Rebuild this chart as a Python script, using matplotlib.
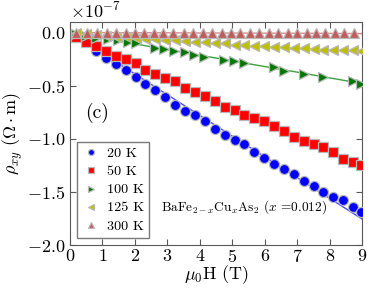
import matplotlib
matplotlib.use("Agg")
import matplotlib.pyplot as plt
import numpy as np

plt.rcParams['font.family'] = 'serif'
plt.rcParams['font.serif'] = ['cmr10', 'DejaVu Serif']
plt.rcParams['mathtext.fontset'] = 'cm'
plt.rcParams['axes.formatter.use_mathtext'] = True
plt.rcParams['axes.unicode_minus'] = True

# =============================
# Data (rho_xy in units of 1e-7 Ohm m)
# =============================
h_main = [0.19, 0.50, 0.80, 1.11, 1.42, 1.73, 2.04, 2.32, 2.63, 2.94,
          3.25, 3.53, 3.84, 4.15, 4.46, 4.77, 5.08, 5.36, 5.67, 5.98,
          6.28, 6.59, 6.90, 7.21, 7.52, 7.80, 8.11, 8.42, 8.73, 8.98]

rho_20k = [-0.04, -0.09, -0.17, -0.24, -0.30, -0.35, -0.42, -0.48, -0.54, -0.61,
           -0.68, -0.74, -0.78, -0.83, -0.91, -0.96, -1.01, -1.05, -1.12, -1.18,
           -1.24, -1.28, -1.33, -1.40, -1.44, -1.50, -1.55, -1.58, -1.64, -1.69]

rho_50k = [-0.04, -0.09, -0.13, -0.17, -0.22, -0.25, -0.29, -0.35, -0.39, -0.43,
           -0.46, -0.52, -0.56, -0.60, -0.64, -0.70, -0.73, -0.78, -0.80, -0.83,
           -0.88, -0.93, -0.98, -1.02, -1.05, -1.08, -1.12, -1.19, -1.22, -1.25]

rho_125k = [-0.005, -0.015, -0.025, -0.03, -0.04, -0.045, -0.05, -0.06, -0.06, -0.07,
            -0.075, -0.08, -0.085, -0.09, -0.095, -0.10, -0.12, -0.12, -0.13, -0.13,
            -0.14, -0.14, -0.145, -0.15, -0.155, -0.16, -0.16, -0.165, -0.165, -0.17]

h_100k = [0.19, 0.50, 0.80, 1.18, 1.49, 1.80, 2.04, 2.63, 2.91, 3.22,
          3.53, 3.81, 4.12, 4.74, 5.05, 5.36, 6.28, 6.59, 7.21, 7.80, 8.73, 8.98]
rho_100k = [-0.01, -0.03, -0.05, -0.065, -0.075, -0.085, -0.095, -0.15, -0.155, -0.17,
            -0.18, -0.21, -0.23, -0.255, -0.27, -0.29, -0.325, -0.36, -0.39, -0.415,
            -0.46, -0.485]

h_300k = [0.19, 0.53, 0.84, 1.15, 1.42, 1.73, 2.01, 2.29, 2.60, 2.88,
          3.19, 3.50, 3.78, 4.09, 4.37, 4.67, 4.95, 5.23, 5.54, 5.82,
          6.13, 6.41, 6.72, 7.00, 7.31, 7.59, 7.86, 8.17, 8.45, 8.76]
rho_300k = [0.0, 0.0, 0.0, 0.0, 0.0, -0.002, -0.002, -0.002, -0.003, -0.003,
            -0.003, -0.004, -0.004, -0.004, -0.005, -0.005, -0.005, -0.005, -0.006, -0.006,
            -0.006, -0.006, -0.007, -0.007, -0.007, -0.007, -0.008, -0.008, -0.008, -0.008]

# fit curves
fit_h = [0, 1, 2, 3, 4, 5, 6, 7, 8, 9]
fit_20k = [0.0, -0.195, -0.39, -0.585, -0.78, -0.975, -1.17, -1.365, -1.56, -1.755]
fit_50k = [0.0, -0.15, -0.29, -0.44, -0.58, -0.71, -0.85, -0.98, -1.12, -1.27]
fit_100k = [0.0, -0.053, -0.107, -0.16, -0.213, -0.267, -0.32, -0.373, -0.427, -0.48]
fit_125k = [0.0, -0.035, -0.06, -0.08, -0.10, -0.12, -0.135, -0.15, -0.165, -0.185]
fit_300k = [0.0, -0.001, -0.002, -0.003, -0.004, -0.005, -0.006, -0.007, -0.008, -0.01]

labels = ['20 K', '50 K', '100 K', '125 K', '300 K']
colors = ['#0000ff', '#ff0000', '#007800', '#bfbf00', '#c05c5c']
line_colors = ['#4d4dff', '#ff4040', '#40a040', '#d8d820', '#e08888']
markers = ['o', 's', '>', '<', '^']

s = 1e-7
series = [(h_main, rho_20k, fit_20k), (h_main, rho_50k, fit_50k),
          (h_100k, rho_100k, fit_100k), (h_main, rho_125k, fit_125k),
          (h_300k, rho_300k, fit_300k)]

fig = plt.figure(figsize=(3.82, 2.88), dpi=100)
ax = fig.add_axes([0.183, 0.149, 0.765, 0.775])

handles = []
for (hx, hy, fy), lab, c, lc, m in zip(series, labels, colors, line_colors, markers):
    ax.plot(fit_h, np.array(fy) * s, '-', color=lc, lw=1.0, zorder=2)
    p, = ax.plot(hx, np.array(hy) * s, m, color=c, ms=7.2, mec='0.72', mew=0.9,
                 label=lab, zorder=3)
    handles.append(p)

ax.set_xlim(0, 9)
ax.set_ylim(-2.0e-7, 0.1e-7)
ax.set_xticks(range(10))
ax.set_yticks(np.array([-2.0, -1.5, -1.0, -0.5, 0.0]) * s)
ax.tick_params(direction='in', top=True, right=True, labelsize=13, length=4,
               color='0.35')
ax.tick_params(axis='x', pad=2)
for sp in ax.spines.values():
    sp.set_color('0.35')
ax.yaxis.get_offset_text().set_fontsize(13)

ax.set_xlabel(r'$\mu_0\mathrm{H\ (T)}$', fontsize=13, labelpad=-1)
ax.set_ylabel(r'$\rho_{xy}\ (\Omega\cdot\mathrm{m})$', fontsize=13, labelpad=1)

ax.text(0.84, -0.755e-7, '(c)', fontsize=14, ha='center', va='center')
ax.text(2.82, -1.64e-7, r'BaFe$_{2-x}$Cu$_x$As$_2$ ($x$ =0.012)', fontsize=9.6,
        ha='left', va='center')

leg = ax.legend(handles=handles, loc='lower left', bbox_to_anchor=(0.024, 0.031),
                borderaxespad=0, numpoints=1, markerscale=0.6, fontsize=10.2,
                fancybox=False, handletextpad=0.5, labelspacing=0.36,
                handlelength=1.2, borderpad=0.4)
leg.get_frame().set_edgecolor('0.35')
leg.get_frame().set_linewidth(1.0)

fig.savefig('out.png', dpi=100)
